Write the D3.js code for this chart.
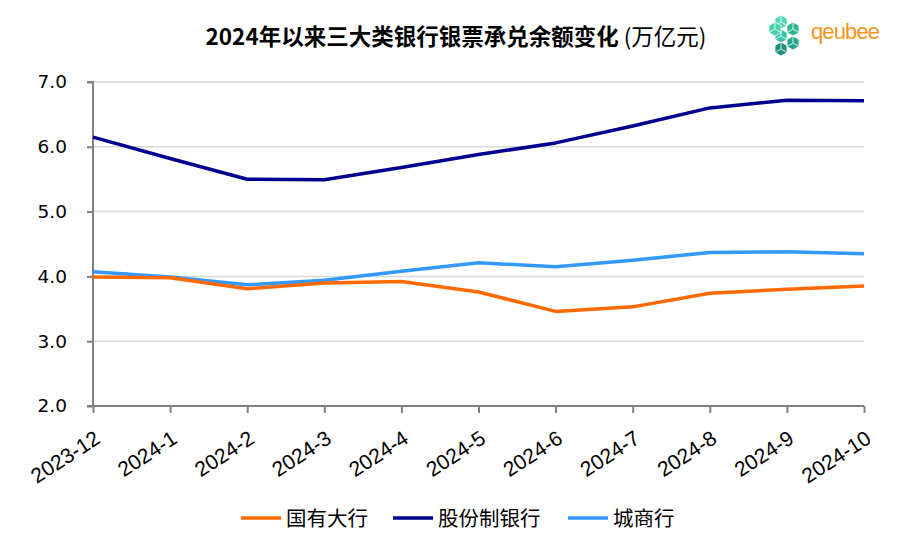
<!DOCTYPE html>
<html><head><meta charset="utf-8">
<script src="https://cdn.jsdelivr.net/npm/d3@7"></script>
<style>body{margin:0;background:#fff}svg{display:block}</style>
</head><body>
<script>
const categories = ["2023-12","2024-1","2024-2","2024-3","2024-4","2024-5","2024-6","2024-7","2024-8","2024-9","2024-10"];
const stateBanks = [3.99,3.98,3.81,3.90,3.92,3.76,3.46,3.53,3.74,3.80,3.85];
const jointStock = [6.15,5.82,5.50,5.49,5.68,5.88,6.06,6.32,6.60,6.72,6.71];
const cityBanks = [4.07,3.99,3.87,3.94,4.08,4.21,4.15,4.25,4.37,4.38,4.35];
const seriesNames = ["国有大行","股份制银行","城商行"];
const seriesColors = ["#FF6A00","#000090","#3399FF"];
const yTicks = [2,3,4,5,6,7];
const title = "2024年以来三大类银行银票承兑余额变化";
const unit = " (万亿元)";

const W = 911, H = 551;
const svg = d3.select("body").append("svg").attr("width", W).attr("height", H);
const m = {left: 93, right: 864, top: 82, bottom: 406};

const x = d3.scalePoint().domain(categories).range([m.left, m.right]);
const y = d3.scaleLinear().domain([2, 7]).range([m.bottom, m.top]);

// gridlines
svg.append("g").selectAll("line").data(yTicks.filter(d => d > 2)).join("line")
  .attr("x1", m.left).attr("x2", m.right)
  .attr("y1", d => y(d)).attr("y2", d => y(d))
  .attr("stroke", "#d9d9d9").attr("stroke-width", 1.5);

// y axis
const yAxis = svg.append("g").attr("transform", `translate(${m.left},0)`)
  .call(d3.axisLeft(y).tickValues(yTicks).tickFormat(d3.format(".1f")).tickSize(6).tickPadding(20));
yAxis.select(".domain").attr("stroke", "#808080").attr("stroke-width", 2).attr("d", `M-6,${m.top}H0V${m.bottom}H-6`);
yAxis.selectAll(".tick line").attr("stroke", "#808080").attr("stroke-width", 2);
yAxis.selectAll(".tick text").attr("font-family", "DejaVu Sans, Verdana, sans-serif").attr("font-size", 18.5).attr("fill", "#000");

// x axis
const xAxis = svg.append("g").attr("transform", `translate(0,${m.bottom})`)
  .call(d3.axisBottom(x).tickSize(7).tickSizeOuter(0));
xAxis.select(".domain").attr("stroke", "#808080").attr("stroke-width", 2).attr("d", `M${m.left},0H${m.right}`);
xAxis.selectAll(".tick line").attr("stroke", "#808080").attr("stroke-width", 2);
xAxis.selectAll(".tick text")
  .attr("font-family", "Liberation Sans, Arial, sans-serif").attr("font-size", 21).attr("fill", "#000")
  .attr("text-anchor", "end").attr("dy", null).attr("y", 0)
  .attr("transform", "translate(8,36) rotate(-33)");

// lines
const allSeries = [stateBanks, jointStock, cityBanks];
const line = d3.line().x((d, i) => x(categories[i])).y(d => y(d));
const drawOrder = [1, 2, 0];
drawOrder.forEach(k => {
  svg.append("path").datum(allSeries[k]).attr("d", line)
    .attr("fill", "none").attr("stroke", seriesColors[k]).attr("stroke-width", 3.5)
    .attr("stroke-linejoin", "round");
});

// title
const t = svg.append("text").attr("x", 456).attr("y", 45).attr("text-anchor", "middle")
  .attr("font-family", "Noto Sans CJK SC, sans-serif").attr("font-size", 22.5).attr("fill", "#000");
t.append("tspan").attr("font-weight", "bold").text(title);
t.append("tspan").attr("font-weight", "normal").text(unit);

// legend
const legX = [241, 393, 568];
seriesNames.forEach((n, i) => {
  const g = svg.append("g").attr("transform", `translate(${legX[i]},518)`);
  g.append("line").attr("x1", 0).attr("x2", 40).attr("y1", 0).attr("y2", 0)
    .attr("stroke", seriesColors[i]).attr("stroke-width", 3.5);
  g.append("text").attr("x", 45).attr("y", 7.5).attr("font-family", "Noto Sans CJK SC, sans-serif")
    .attr("font-size", 20.5).attr("fill", "#000").text(n);
});

// logo
const logo = svg.append("g").attr("transform", "translate(789,31)");
const s = 7;
const hexPts = (cx, cy) => d3.range(6).map(j => {
  const a = Math.PI / 3 * j + Math.PI / 6;
  return [cx + s * Math.cos(a), cy + s * Math.sin(a)];
});
const cubes = [[-8,-9,"#55d6b6"],[4,-2,"#2fb795"],[-8,5,"#3bc4a4"],[-8,18,"#1f8f7e"],[4,12,"#27a68a"],[-14,-2,"#49cfae"]];
cubes.forEach(([cx, cy, c]) => {
  const pts = hexPts(cx, cy);
  logo.append("polygon").attr("points", pts.map(p => p.join(",")).join(" ")).attr("fill", c).attr("stroke", "#fff").attr("stroke-width", 0.8);
  logo.append("polyline").attr("points", [[cx, cy - s], [cx, cy], [cx + s * Math.cos(Math.PI/6), cy + s/2]].map(p=>p.join(",")).join(" ")).attr("fill","none").attr("stroke","#fff").attr("stroke-width",0.8);
  logo.append("line").attr("x1", cx).attr("y1", cy).attr("x2", cx - s * Math.cos(Math.PI/6)).attr("y2", cy + s/2).attr("stroke","#fff").attr("stroke-width",0.8);
});
svg.append("text").attr("x", 811).attr("y", 39).attr("font-family", "Liberation Sans, Arial, sans-serif")
  .attr("font-size", 22).attr("fill", "#F7941D").attr("textLength", 69).text("qeubee");
</script>
</body></html>
